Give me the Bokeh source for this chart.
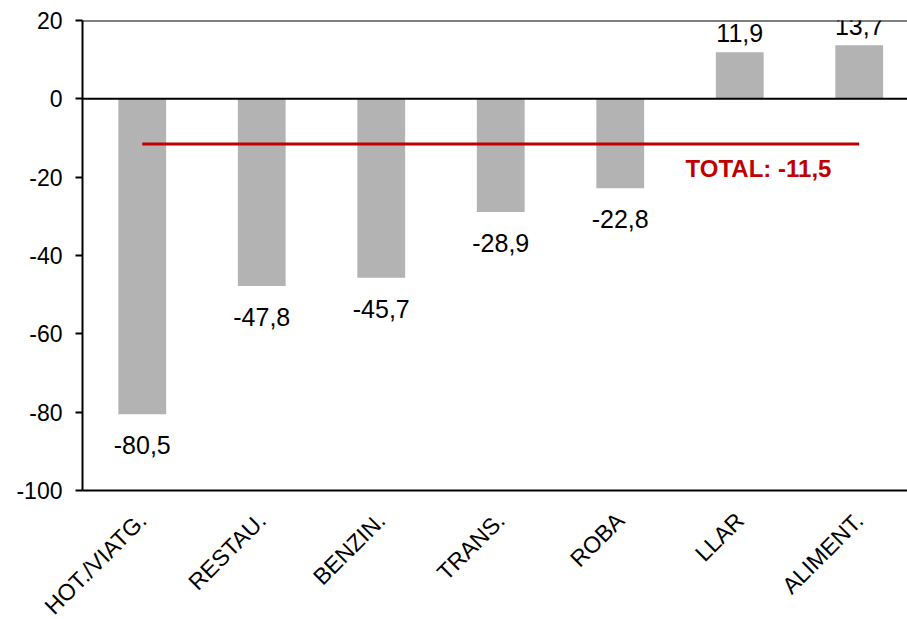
from bokeh.plotting import figure
from bokeh.models import ColumnDataSource, Span, FixedTicker, Label
from bokeh.core.properties import value
from bokeh.embed import file_html
from bokeh.resources import INLINE

categories = ["HOT./VIATG.", "RESTAU.", "BENZIN.", "TRANS.", "ROBA", "LLAR", "ALIMENT."]
values = [-80.5, -47.8, -45.7, -28.9, -22.8, 11.9, 13.7]
total = -11.5
total_label = "TOTAL: -11,5"
y_ticks = [-100, -80, -60, -40, -20, 0, 20]
y_min, y_max = -100, 20

FONT = "Liberation Sans"
xs = list(range(len(categories)))

def fmt(v):
    return f"{v:.1f}".replace(".", ",")

p = figure(width=907, height=631, output_backend="svg", toolbar_location=None,
           x_range=(-0.5, 6.404), y_range=(y_min, y_max),
           min_border_left=82, min_border_top=20, min_border_bottom=141, min_border_right=0)
p.outline_line_color = None
p.background_fill_color = "white"
p.border_fill_color = "white"
p.xgrid.visible = False
p.ygrid.visible = False

src = ColumnDataSource(dict(x=xs, top=values))
p.vbar(x="x", top="top", bottom=0, width=0.40, source=src, fill_color="#b3b3b3", line_color=None)

# zero line and top line
p.add_layout(Span(location=0, dimension="width", line_color="black", line_width=2))
p.add_layout(Span(location=y_max, dimension="width", line_color="black", line_width=2))

# total line
p.line(x=[xs[0], xs[-1]], y=[total, total], line_color="#c00000", line_width=3)
p.add_layout(Label(x=5.157, y=total, text=total_label, text_color="#c00000",
                   text_font=FONT, text_font_size="24px", text_font_style="bold",
                   text_align="center", text_baseline="middle", y_offset=-25))

# value labels
pos = [(x, v) for x, v in zip(xs, values) if v >= 0]
neg = [(x, v) for x, v in zip(xs, values) if v < 0]
p.text(x=[a for a, b in pos], y=[b for a, b in pos], text=[fmt(b) for a, b in pos],
       text_font=value(FONT), text_font_size="25px", text_color="black",
       text_align="center", text_baseline="alphabetic", y_offset=-19)
p.text(x=[a for a, b in neg], y=[b for a, b in neg], text=[fmt(b) for a, b in neg],
       text_font=value(FONT), text_font_size="25px", text_color="black",
       text_align="center", text_baseline="top", y_offset=22)

# axes
p.yaxis.ticker = FixedTicker(ticks=y_ticks)
p.yaxis.major_label_overrides = {t: str(t) for t in y_ticks}
p.yaxis.minor_tick_line_color = None
p.yaxis.major_tick_out = 7
p.yaxis.major_tick_in = 0
p.yaxis.major_tick_line_width = 2
p.yaxis.axis_line_width = 2
p.yaxis.axis_line_color = "black"
p.yaxis.major_label_text_font = FONT
p.yaxis.major_label_text_font_size = "23px"
p.yaxis.major_label_text_color = "black"
p.yaxis.major_label_standoff = 13

p.xaxis.ticker = FixedTicker(ticks=xs)
p.xaxis.major_label_overrides = {i: c for i, c in enumerate(categories)}
p.xaxis.major_label_orientation = 0.785398
p.xaxis.major_tick_line_color = None
p.xaxis.minor_tick_line_color = None
p.xaxis.axis_line_width = 2
p.xaxis.axis_line_color = "black"
p.xaxis.major_label_text_font = FONT
p.xaxis.major_label_text_font_size = "23px"
p.xaxis.major_label_text_color = "black"
p.xaxis.major_label_standoff = 20

open("out.html", "w").write(file_html(p, INLINE))
